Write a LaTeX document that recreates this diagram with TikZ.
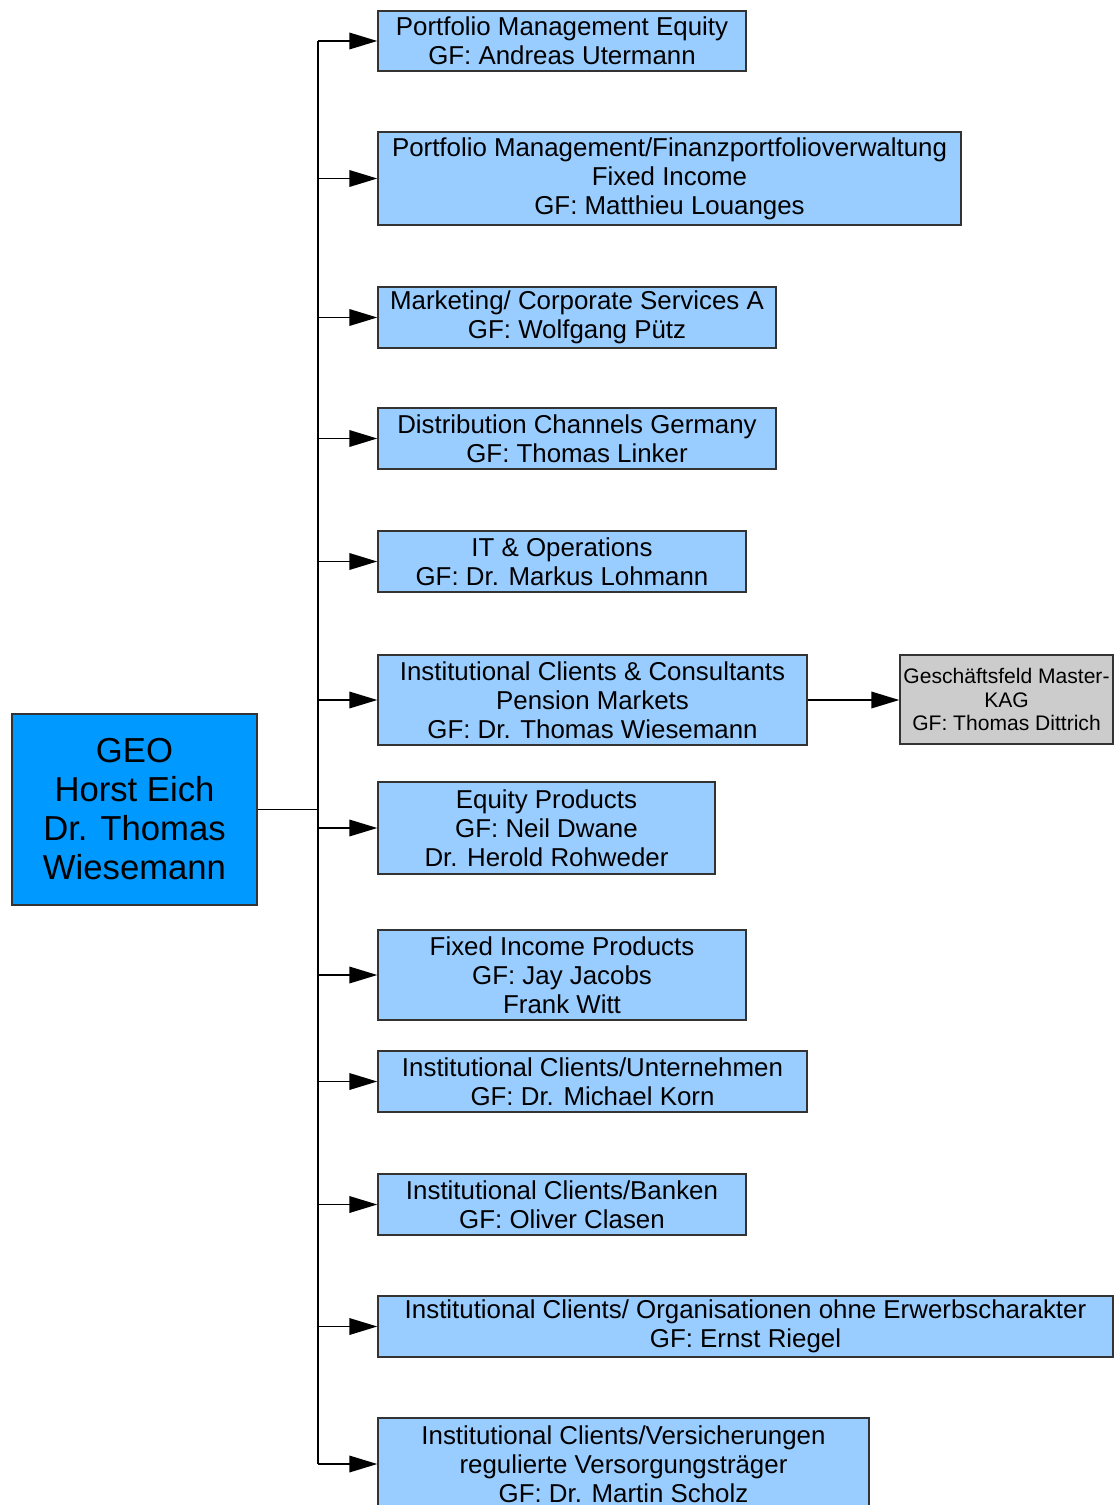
\documentclass[tikz,border=0pt]{standalone}
\usepackage{fontspec}
\setmainfont{Liberation Sans}
\usetikzlibrary{arrows.meta}
\definecolor{lblue}{HTML}{99CCFF}
\definecolor{dblue}{HTML}{0099FF}
\definecolor{lgrey}{HTML}{CCCCCC}
\definecolor{bord}{HTML}{333333}
\tikzset{
  unit/.style={rectangle, draw=bord, line width=1.1pt, inner sep=0pt, align=center, text=black},
  dept/.style={unit, fill=lblue, font=\fontsize{19.4}{21.75}\selectfont},
  chief/.style={unit, fill=dblue, font=\fontsize{26}{29.25}\selectfont},
  side/.style={unit, fill=lgrey, font=\fontsize{15.8}{17.6}\selectfont},
  conn/.style={line width=1.1pt, draw=black},
  arr/.style={conn, -{Triangle[length=21pt,width=12.5pt]}, shorten >=0pt},
}
\newcommand{\boxat}[7]{% name, left, top, right, bottom, style, text
  \node[#6, minimum width={(#4-#2)*0.75pt}, minimum height={(#5-#3)*0.75pt}] (#1) at ({(#2+#4)/2},{(#3+#5)/2}) {#7};}
\begin{document}
\begin{tikzpicture}[x=0.75pt,y=-0.75pt]
\useasboundingbox (0,0) rectangle (1116,1505);
\coordinate (tr) at (318,0);
\boxat{geo}{12}{714}{257}{905}{chief}{GEO\\Horst Eich\\Dr. Thomas~\\Wiesemann}
\boxat{b1}{378}{11}{746}{71}{dept}{Portfolio Management Equity\\GF: Andreas Utermann}
\boxat{b2}{378}{132}{961}{225}{dept}{Portfolio Management/Finanzportfolioverwaltung\\Fixed Income\\GF: Matthieu Louanges}
\boxat{b3}{378}{287}{776}{348}{dept}{Marketing/ Corporate Services A\\GF: Wolfgang Pütz}
\boxat{b4}{378}{408}{776}{469}{dept}{Distribution Channels Germany\\GF: Thomas Linker}
\boxat{b5}{378}{531}{746}{592}{dept}{IT \& Operations\\GF: Dr. Markus Lohmann}
\boxat{b6}{378}{655}{807}{745}{dept}{Institutional Clients \& Consultants\\Pension Markets\\GF: Dr. Thomas Wiesemann}
\boxat{b7}{378}{782}{715}{874}{dept}{Equity Products\\GF: Neil Dwane\\Dr. Herold Rohweder}
\boxat{b8}{378}{930}{746}{1020}{dept}{Fixed Income Products\\GF: Jay Jacobs\\Frank Witt}
\boxat{b9}{378}{1051}{807}{1112}{dept}{Institutional Clients/Unternehmen\\GF: Dr. Michael Korn}
\boxat{b10}{378}{1174}{746}{1235}{dept}{Institutional Clients/Banken\\GF: Oliver Clasen}
\boxat{b11}{378}{1296}{1113}{1357}{dept}{Institutional Clients/ Organisationen ohne Erwerbscharakter\\GF: Ernst Riegel}
\boxat{b12}{378}{1418}{869}{1510}{dept}{Institutional Clients/Versicherungen\\regulierte Versorgungsträger\\GF: Dr. Martin Scholz}
\boxat{gs}{900}{655}{1113}{744}{side}{Geschäftsfeld Master-\\KAG\\GF: Thomas Dittrich}
% trunk
\draw[conn] (b1.west -| tr) -- (b12.west -| tr);
\draw[conn] (geo.east) -- (geo.east -| tr);
\foreach \b in {b1,b2,b3,b4,b5,b6,b7,b8,b9,b10,b11,b12}
  \draw[arr] (\b.west -| tr) -- (\b.west);
\draw[arr] (b6.east) -- (gs.west |- b6.east);
\end{tikzpicture}
\end{document}
